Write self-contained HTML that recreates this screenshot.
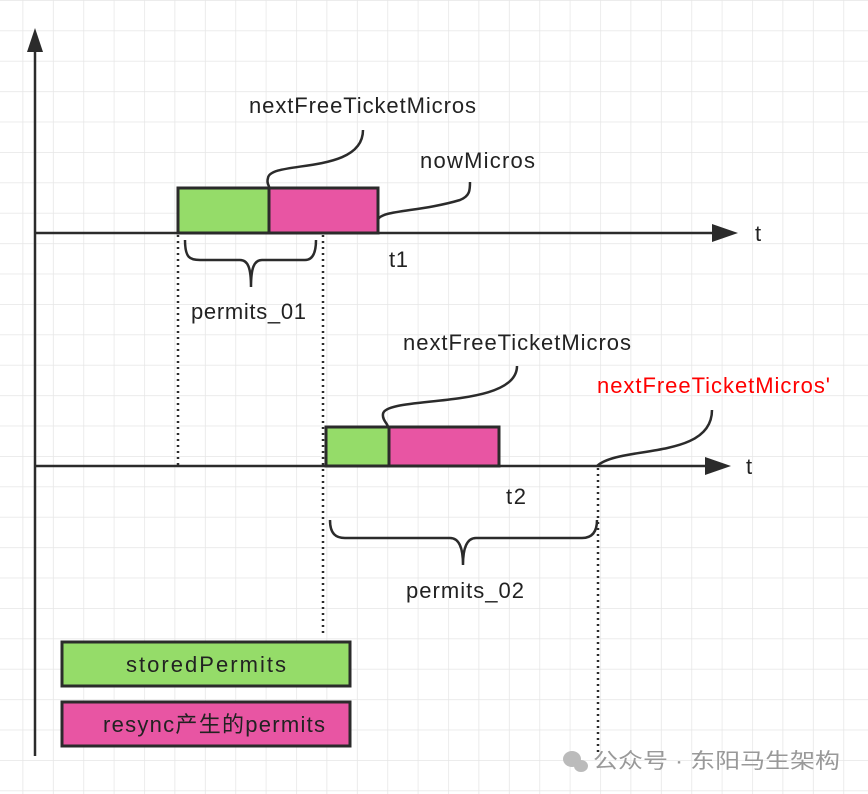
<!DOCTYPE html>
<html><head><meta charset="utf-8"><style>
body{margin:0;background:#fff;}
svg{display:block;font-family:"Liberation Sans","Noto Sans CJK SC",sans-serif;}
</style></head><body>
<svg width="868" height="794" viewBox="0 0 868 794">
<defs>
<pattern id="g" x="22.5" y="0" width="30.4" height="30.4" patternUnits="userSpaceOnUse">
<path d="M0 0V30.4M0 0H30.4" stroke="#e6e6e6" stroke-width="1.5" fill="none"/>
</pattern>
</defs>
<rect width="868" height="794" fill="url(#g)"/>
<g stroke="#2b2b2b" stroke-width="2.5" fill="none">
<line x1="35" y1="50" x2="35" y2="756"/>
<line x1="35" y1="233" x2="715" y2="233"/>
<line x1="35" y1="466" x2="708" y2="466"/>
</g>
<polygon points="35,28 27,52 43,52" fill="#2b2b2b"/>
<polygon points="738,233 712,224 712,242" fill="#2b2b2b"/>
<polygon points="731,466 705,457 705,475" fill="#2b2b2b"/>
<g stroke="#2b2b2b" stroke-width="2.5" stroke-dasharray="2,4" fill="none">
<line x1="178" y1="235" x2="178" y2="465"/>
<line x1="323" y1="235" x2="323" y2="635"/>
<line x1="598" y1="468" x2="598" y2="755"/>
</g>
<g stroke="#2b2b2b" stroke-width="3">
<rect x="178" y="188" width="91" height="45" fill="#95dc69"/>
<rect x="269" y="188" width="109" height="45" fill="#e855a3"/>
<rect x="326" y="427" width="63" height="39" fill="#95dc69"/>
<rect x="389" y="427" width="110" height="39" fill="#e855a3"/>
<rect x="62" y="642" width="288" height="44" fill="#95dc69"/>
<rect x="62" y="702" width="288" height="44" fill="#e855a3"/>
</g>
<g stroke="#2b2b2b" stroke-width="2.5" fill="none">
<path d="M363 130 C363 175 270 160 268 178 C266 184 270 186 269 188"/>
<path d="M378 220 C380 210 420 212 460 200 C470 196 470 190 470 182"/>
<path d="M517 366 C517 410 385 395 383 414 C382 420 388 424 388 427"/>
<path d="M185 240 C185 258 190 260 200 260 L240 260 C248 260 251 268 251 287 C251 268 254 260 262 260 L305 260 C312 260 316 254 316 240"/>
<path d="M330 520 C330 534 336 538 345 538 L450 538 C459 538 463 548 463 565 C463 548 467 538 476 538 L582 538 C592 538 597 532 597 520"/>
</g>
<path d="M712 410 C712 460 620 445 597 466" stroke="#2b2b2b" stroke-width="2.5" fill="none"/>
<g font-size="22" fill="#222" lengthAdjust="spacingAndGlyphs">
<text x="249" y="113" textLength="227">nextFreeTicketMicros</text>
<text x="420" y="168" textLength="115">nowMicros</text>
<text x="389" y="267" textLength="19">t1</text>
<text x="191" y="319" textLength="115">permits_01</text>
<text x="403" y="350" textLength="228">nextFreeTicketMicros</text>
<text x="597" y="393" textLength="233" fill="#ff0000">nextFreeTicketMicros'</text>
<text x="506" y="504" textLength="20">t2</text>
<text x="406" y="598" textLength="118">permits_02</text>
<text x="755" y="241">t</text>
<text x="746" y="474">t</text>
<text x="126" y="672" textLength="160">storedPermits</text>
<text x="103" y="732" textLength="222">resync产生的permits</text>
</g>
<g fill="#bbb">
<ellipse cx="572" cy="759" rx="9" ry="8"/><ellipse cx="581" cy="766" rx="7" ry="6"/>
</g>
<text x="593" y="768" font-size="21" fill="#999" textLength="247" lengthAdjust="spacingAndGlyphs">公众号 · 东阳马生架构</text>
</svg>
</body></html>
